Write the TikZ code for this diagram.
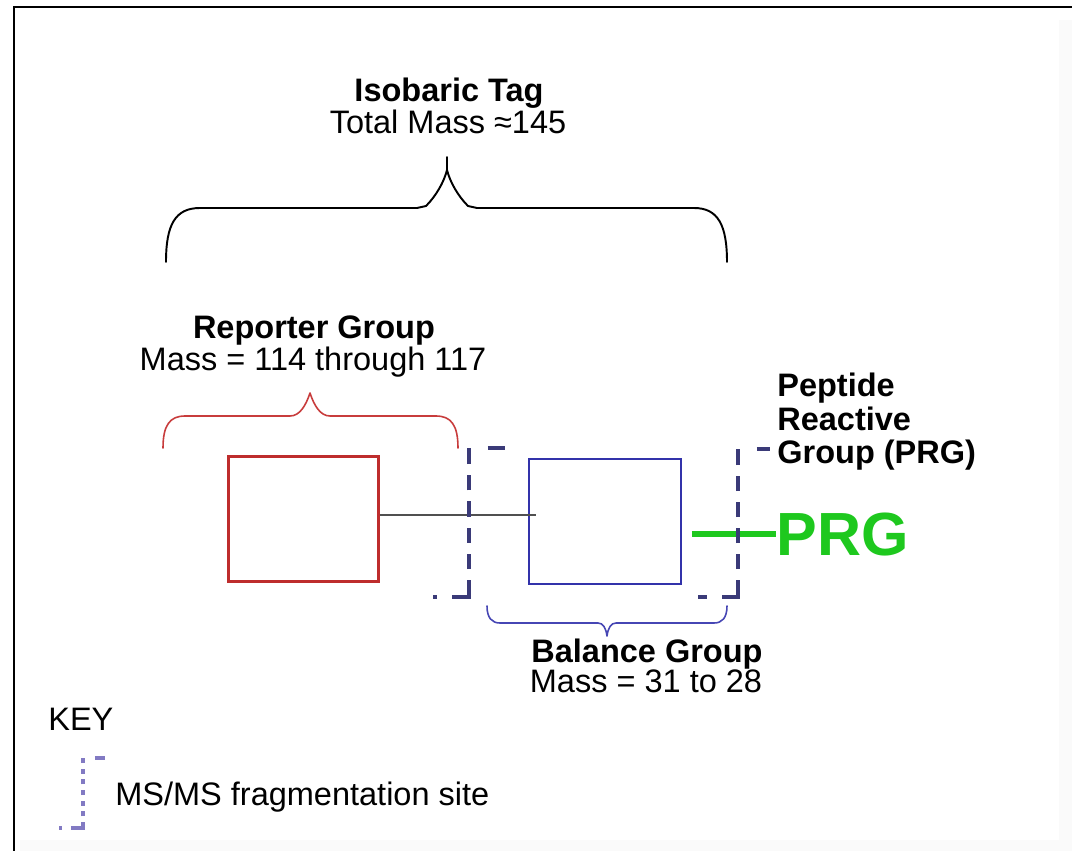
\documentclass[tikz,border=0pt]{standalone}
\usepackage{fontspec}
\setmainfont{Liberation Sans}
\usetikzlibrary{calc}
\definecolor{fragc}{RGB}{58,58,120}
\definecolor{keyc}{RGB}{130,122,195}
\definecolor{redc}{RGB}{190,45,45}
\definecolor{redbr}{RGB}{200,60,60}
\definecolor{bluec}{RGB}{50,50,170}
\definecolor{bluebr}{RGB}{70,70,180}
\definecolor{greenc}{RGB}{30,200,30}
\definecolor{linec}{RGB}{80,80,80}
\tikzset{
  txt/.style={font=\fontsize{18.5pt}{22pt}\selectfont, inner sep=0pt, anchor=base},
  btxt/.style={font=\fontsize{18.5pt}{22pt}\selectfont\bfseries, inner sep=0pt, anchor=base},
  frag/.style={draw=fragc, line width=2.3pt},
  keyfrag/.style={draw=keyc, line width=2pt},
  groupbox/.style={rectangle, minimum width=3cm, minimum height=2.5cm, inner sep=0pt},
  brace/.style={line width=1.1pt, line cap=round, line join=round}
}
\begin{document}
\begin{tikzpicture}[x=0.02cm,y=-0.02cm]
\useasboundingbox (0,0) rectangle (1072,851);
\fill[white] (0,0) rectangle (1072,851);
\fill[black!2] (1059,20) rectangle (1072,851);
\fill[black!2] (20,840) rectangle (1072,851);
\draw[line width=1.7pt] (14,851) -- (14,7) -- (1072,7);

% texts
\node[btxt] (iso) at (449,102) {Isobaric Tag};
\node[txt] (tot) at (448,134) {Total Mass ≈145};
\node[btxt] (repl) at (314,338) {Reporter Group};
\node[txt] (repm) at (313,370) {Mass = 114 through 117};
\node[btxt, anchor=base west] (pep1) at (777,397) {Peptide};
\node[btxt, anchor=base west] (pep2) at (777,430) {Reactive};
\node[btxt, anchor=base west] (pep3) at (777,463) {Group (PRG)};
\node[anchor=base west, inner sep=0pt, text=greenc, font=\fontsize{34.7pt}{40pt}\selectfont\bfseries] (prg) at (776,555) {PRG};
\node[btxt] (bal1) at (647,662) {Balance Group};
\node[txt] (bal2) at (646,692) {Mass = 31 to 28};
\node[txt, anchor=base west] (key) at (48,730) {KEY};
\node[txt, anchor=base west] (keytxt) at (115,805) {MS/MS fragmentation site};

% boxes
\node[groupbox, draw=redc, line width=1.3pt] (rep) at (303.5,519) {};
\node[groupbox, draw=bluec, line width=0.9pt, minimum width=3.04cm] (bal) at (605,521.5) {};

% connector reporter -> balance
\coordinate (lnend) at (536,515);
\draw[linec, line width=0.8pt] (rep.east |- lnend) -- (lnend);

% green PRG link
\draw[greenc, line width=3.6pt] ($(bal.east |- prg.west)+(10,0)$) -- (prg.west);

% fragmentation sites
\draw[frag, dash pattern=on 0.08cm off 0.30cm on 0.68cm off 0.22cm on 0.305cm off 0.22cm on 0.305cm off 0.22cm on 0.305cm off 0.22cm on 0.305cm off 0.22cm on 0.32cm off 0.38cm on 0.34cm off 0.4cm]
  (433,597) -- (469,597) -- (469,448) -- (505,448);
\draw[frag, dash pattern=on 0.18cm off 0.30cm on 0.66cm off 0.22cm on 0.30cm off 0.22cm on 0.30cm off 0.22cm on 0.30cm off 0.22cm on 0.30cm off 0.22cm on 0.32cm off 0.38cm on 0.26cm off 0.4cm]
  (698,597) -- (738,597) -- (738,449) -- (770,449);
\draw[keyfrag, dash pattern=on 0.06cm off 0.18cm on 0.36cm off 0.113cm on 0.10cm off 0.113cm on 0.10cm off 0.113cm on 0.10cm off 0.113cm on 0.10cm off 0.113cm on 0.10cm off 0.113cm on 0.10cm off 0.24cm on 0.20cm off 0.2cm]
  (59,828) -- (83,828) -- (83,758) -- (105,758);

% black brace (isobaric tag)
\draw[brace, black] (166,262) .. controls (166,225) and (175,208) .. (200,208) -- (417,208) -- (426,206) .. controls (436,196) and (444,182) .. (447,170) -- (447,157);
\draw[brace, black] (727,262) .. controls (727,225) and (718,208) .. (694,208) -- (477,208) -- (468,206) .. controls (458,196) and (450,182) .. (447,170);

% red brace (reporter)
\draw[brace, redbr, line width=0.9pt] (163,448) .. controls (163,425) and (170,416) .. (185,416) -- (290,416) .. controls (300,416) and (306,405) .. (310,393) .. controls (314,405) and (320,416) .. (330,416) -- (436,416) .. controls (451,416) and (458,425) .. (458,448);

% blue brace (balance)
\draw[brace, bluebr, line width=0.9pt] (487,606) .. controls (487,618) and (492,623) .. (500,623) -- (598,623) .. controls (603,623) and (606,628) .. (607,636) .. controls (608,628) and (611,623) .. (616,623) -- (714,623) .. controls (722,623) and (727,618) .. (727,606);
\end{tikzpicture}
\end{document}
